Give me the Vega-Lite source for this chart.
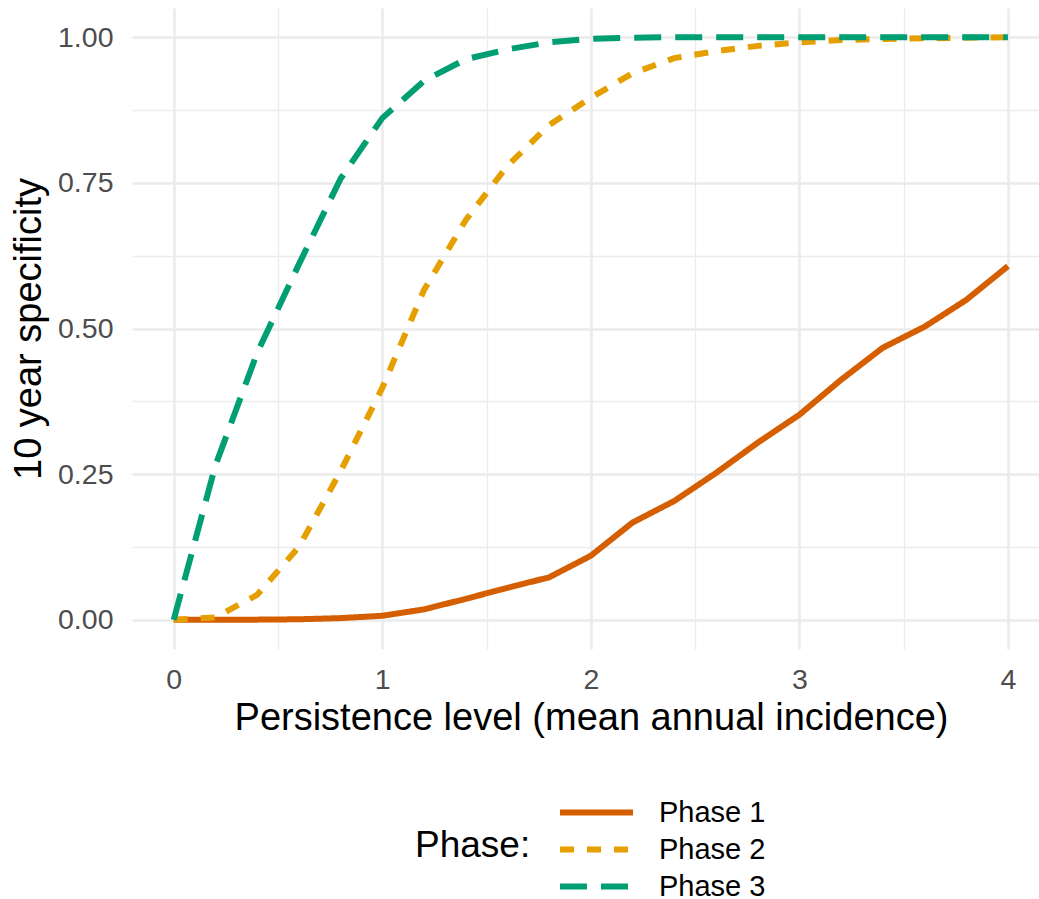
{
  "$schema": "https://vega.github.io/schema/vega-lite/v6.json",
  "autosize": {"type": "none"},
  "width": 907,
  "height": 641,
  "padding": {"left": 132, "top": 8, "right": 0, "bottom": 250},
  "background": "white",
  "config": {
    "view": {"stroke": null},
    "font": "Liberation Sans"
  },
  "data": {
    "values": [
      {"x": 0.0, "y": 0.0, "phase": "Phase 1"},
      {"x": 0.2, "y": 0.0001, "phase": "Phase 1"},
      {"x": 0.4, "y": 0.0004, "phase": "Phase 1"},
      {"x": 0.6, "y": 0.001, "phase": "Phase 1"},
      {"x": 0.8, "y": 0.003, "phase": "Phase 1"},
      {"x": 1.0, "y": 0.007, "phase": "Phase 1"},
      {"x": 1.2, "y": 0.018, "phase": "Phase 1"},
      {"x": 1.4, "y": 0.036, "phase": "Phase 1"},
      {"x": 1.6, "y": 0.055, "phase": "Phase 1"},
      {"x": 1.8, "y": 0.073, "phase": "Phase 1"},
      {"x": 2.0, "y": 0.11, "phase": "Phase 1"},
      {"x": 2.2, "y": 0.167, "phase": "Phase 1"},
      {"x": 2.4, "y": 0.204, "phase": "Phase 1"},
      {"x": 2.6, "y": 0.252, "phase": "Phase 1"},
      {"x": 2.8, "y": 0.304, "phase": "Phase 1"},
      {"x": 3.0, "y": 0.352, "phase": "Phase 1"},
      {"x": 3.2, "y": 0.412, "phase": "Phase 1"},
      {"x": 3.4, "y": 0.467, "phase": "Phase 1"},
      {"x": 3.6, "y": 0.503, "phase": "Phase 1"},
      {"x": 3.8, "y": 0.549, "phase": "Phase 1"},
      {"x": 4.0, "y": 0.607, "phase": "Phase 1"},
      {"x": 0.0, "y": 0.0, "phase": "Phase 2"},
      {"x": 0.2, "y": 0.004, "phase": "Phase 2"},
      {"x": 0.4, "y": 0.043, "phase": "Phase 2"},
      {"x": 0.6, "y": 0.125, "phase": "Phase 2"},
      {"x": 0.8, "y": 0.255, "phase": "Phase 2"},
      {"x": 1.0, "y": 0.398, "phase": "Phase 2"},
      {"x": 1.2, "y": 0.566, "phase": "Phase 2"},
      {"x": 1.4, "y": 0.686, "phase": "Phase 2"},
      {"x": 1.6, "y": 0.779, "phase": "Phase 2"},
      {"x": 1.8, "y": 0.849, "phase": "Phase 2"},
      {"x": 2.0, "y": 0.896, "phase": "Phase 2"},
      {"x": 2.2, "y": 0.938, "phase": "Phase 2"},
      {"x": 2.4, "y": 0.964, "phase": "Phase 2"},
      {"x": 2.6, "y": 0.976, "phase": "Phase 2"},
      {"x": 2.8, "y": 0.985, "phase": "Phase 2"},
      {"x": 3.0, "y": 0.991, "phase": "Phase 2"},
      {"x": 3.2, "y": 0.995, "phase": "Phase 2"},
      {"x": 3.4, "y": 0.997, "phase": "Phase 2"},
      {"x": 3.6, "y": 0.998, "phase": "Phase 2"},
      {"x": 3.8, "y": 0.999, "phase": "Phase 2"},
      {"x": 4.0, "y": 1.0, "phase": "Phase 2"},
      {"x": 0.0, "y": 0.0, "phase": "Phase 3"},
      {"x": 0.2, "y": 0.265, "phase": "Phase 3"},
      {"x": 0.4, "y": 0.458, "phase": "Phase 3"},
      {"x": 0.6, "y": 0.61, "phase": "Phase 3"},
      {"x": 0.8, "y": 0.757, "phase": "Phase 3"},
      {"x": 1.0, "y": 0.861, "phase": "Phase 3"},
      {"x": 1.2, "y": 0.925, "phase": "Phase 3"},
      {"x": 1.4, "y": 0.962, "phase": "Phase 3"},
      {"x": 1.6, "y": 0.979, "phase": "Phase 3"},
      {"x": 1.8, "y": 0.991, "phase": "Phase 3"},
      {"x": 2.0, "y": 0.997, "phase": "Phase 3"},
      {"x": 2.2, "y": 0.999, "phase": "Phase 3"},
      {"x": 2.4, "y": 1.0, "phase": "Phase 3"},
      {"x": 2.6, "y": 1.0, "phase": "Phase 3"},
      {"x": 2.8, "y": 1.0, "phase": "Phase 3"},
      {"x": 3.0, "y": 1.0, "phase": "Phase 3"},
      {"x": 3.2, "y": 1.0, "phase": "Phase 3"},
      {"x": 3.4, "y": 1.0, "phase": "Phase 3"},
      {"x": 3.6, "y": 1.0, "phase": "Phase 3"},
      {"x": 3.8, "y": 1.0, "phase": "Phase 3"},
      {"x": 4.0, "y": 1.0, "phase": "Phase 3"}
    ]
  },
  "mark": {"type": "line", "strokeWidth": 6, "strokeCap": "butt"},
  "encoding": {
    "x": {
      "field": "x",
      "type": "quantitative",
      "scale": {"domain": [-0.2, 4.149], "nice": false, "zero": false},
      "axis": {
        "title": "Persistence level (mean annual incidence)",
        "values": [0, 0.5, 1, 1.5, 2, 2.5, 3, 3.5, 4],
        "labelExpr": "datum.value % 1 === 0 ? format(datum.value, 'd') : ''",
        "domain": false,
        "ticks": false,
        "tickSize": 0,
        "labelPadding": 16,
        "labelFontSize": 28.5,
        "labelColor": "#4D4D4D",
        "labelFlush": false,
        "labelFont": "Liberation Sans",
        "grid": true,
        "gridColor": "#EBEBEB",
        "gridWidth": {"condition": {"test": "datum.value % 1 === 0", "value": 2.6}, "value": 1.3},
        "titleFontSize": 38,
        "titleFontWeight": "normal",
        "titleFont": "Liberation Sans",
        "titleColor": "black",
        "titleBaseline": "alphabetic",
        "titleAnchor": "middle",
        "titleX": 459,
        "titleY": 80
      }
    },
    "y": {
      "field": "y",
      "type": "quantitative",
      "scale": {"domain": [-0.05, 1.05], "nice": false, "zero": false},
      "axis": {
        "title": "10 year specificity",
        "values": [0, 0.125, 0.25, 0.375, 0.5, 0.625, 0.75, 0.875, 1],
        "labelExpr": "(datum.value * 4) % 1 === 0 ? format(datum.value, '.2f') : ''",
        "domain": false,
        "ticks": false,
        "tickSize": 0,
        "labelPadding": 19,
        "labelFontSize": 28.5,
        "labelColor": "#4D4D4D",
        "labelFlush": false,
        "labelFont": "Liberation Sans",
        "grid": true,
        "gridColor": "#EBEBEB",
        "gridWidth": {"condition": {"test": "(datum.value * 4) % 1 === 0", "value": 2.6}, "value": 1.3},
        "titleFontSize": 38,
        "titleFontWeight": "normal",
        "titleFont": "Liberation Sans",
        "titleColor": "black",
        "titleAngle": -90,
        "titleBaseline": "alphabetic",
        "titleAnchor": "middle",
        "titleX": -92,
        "titleY": 320.5
      }
    },
    "color": {
      "field": "phase",
      "type": "nominal",
      "title": "Phase:",
      "scale": {"domain": ["Phase 1", "Phase 2", "Phase 3"], "range": ["#D55E00", "#E69F00", "#009E73"]},
      "legend": {
        "orient": "none",
        "legendX": 283,
        "legendY": 783,
        "titleOrient": "left",
        "titleAnchor": "middle",
        "titleBaseline": "middle",
        "titleFontSize": 37,
        "titleFontWeight": "normal",
        "titleFont": "Liberation Sans",
        "titleColor": "black",
        "titlePadding": 7.5,
        "labelFontSize": 29,
        "labelFont": "Liberation Sans",
        "labelColor": "black",
        "labelOffset": 77.5,
        "symbolType": "M0,0H4",
        "symbolSize": 1332,
        "symbolStrokeWidth": 6,
        "rowPadding": 0,
        "padding": 0
      }
    },
    "strokeDash": {
      "field": "phase",
      "type": "nominal",
      "title": "Phase:",
      "scale": {"domain": ["Phase 1", "Phase 2", "Phase 3"], "range": [[1, 0], [14, 13], [27, 14]]}
    }
  }
}
